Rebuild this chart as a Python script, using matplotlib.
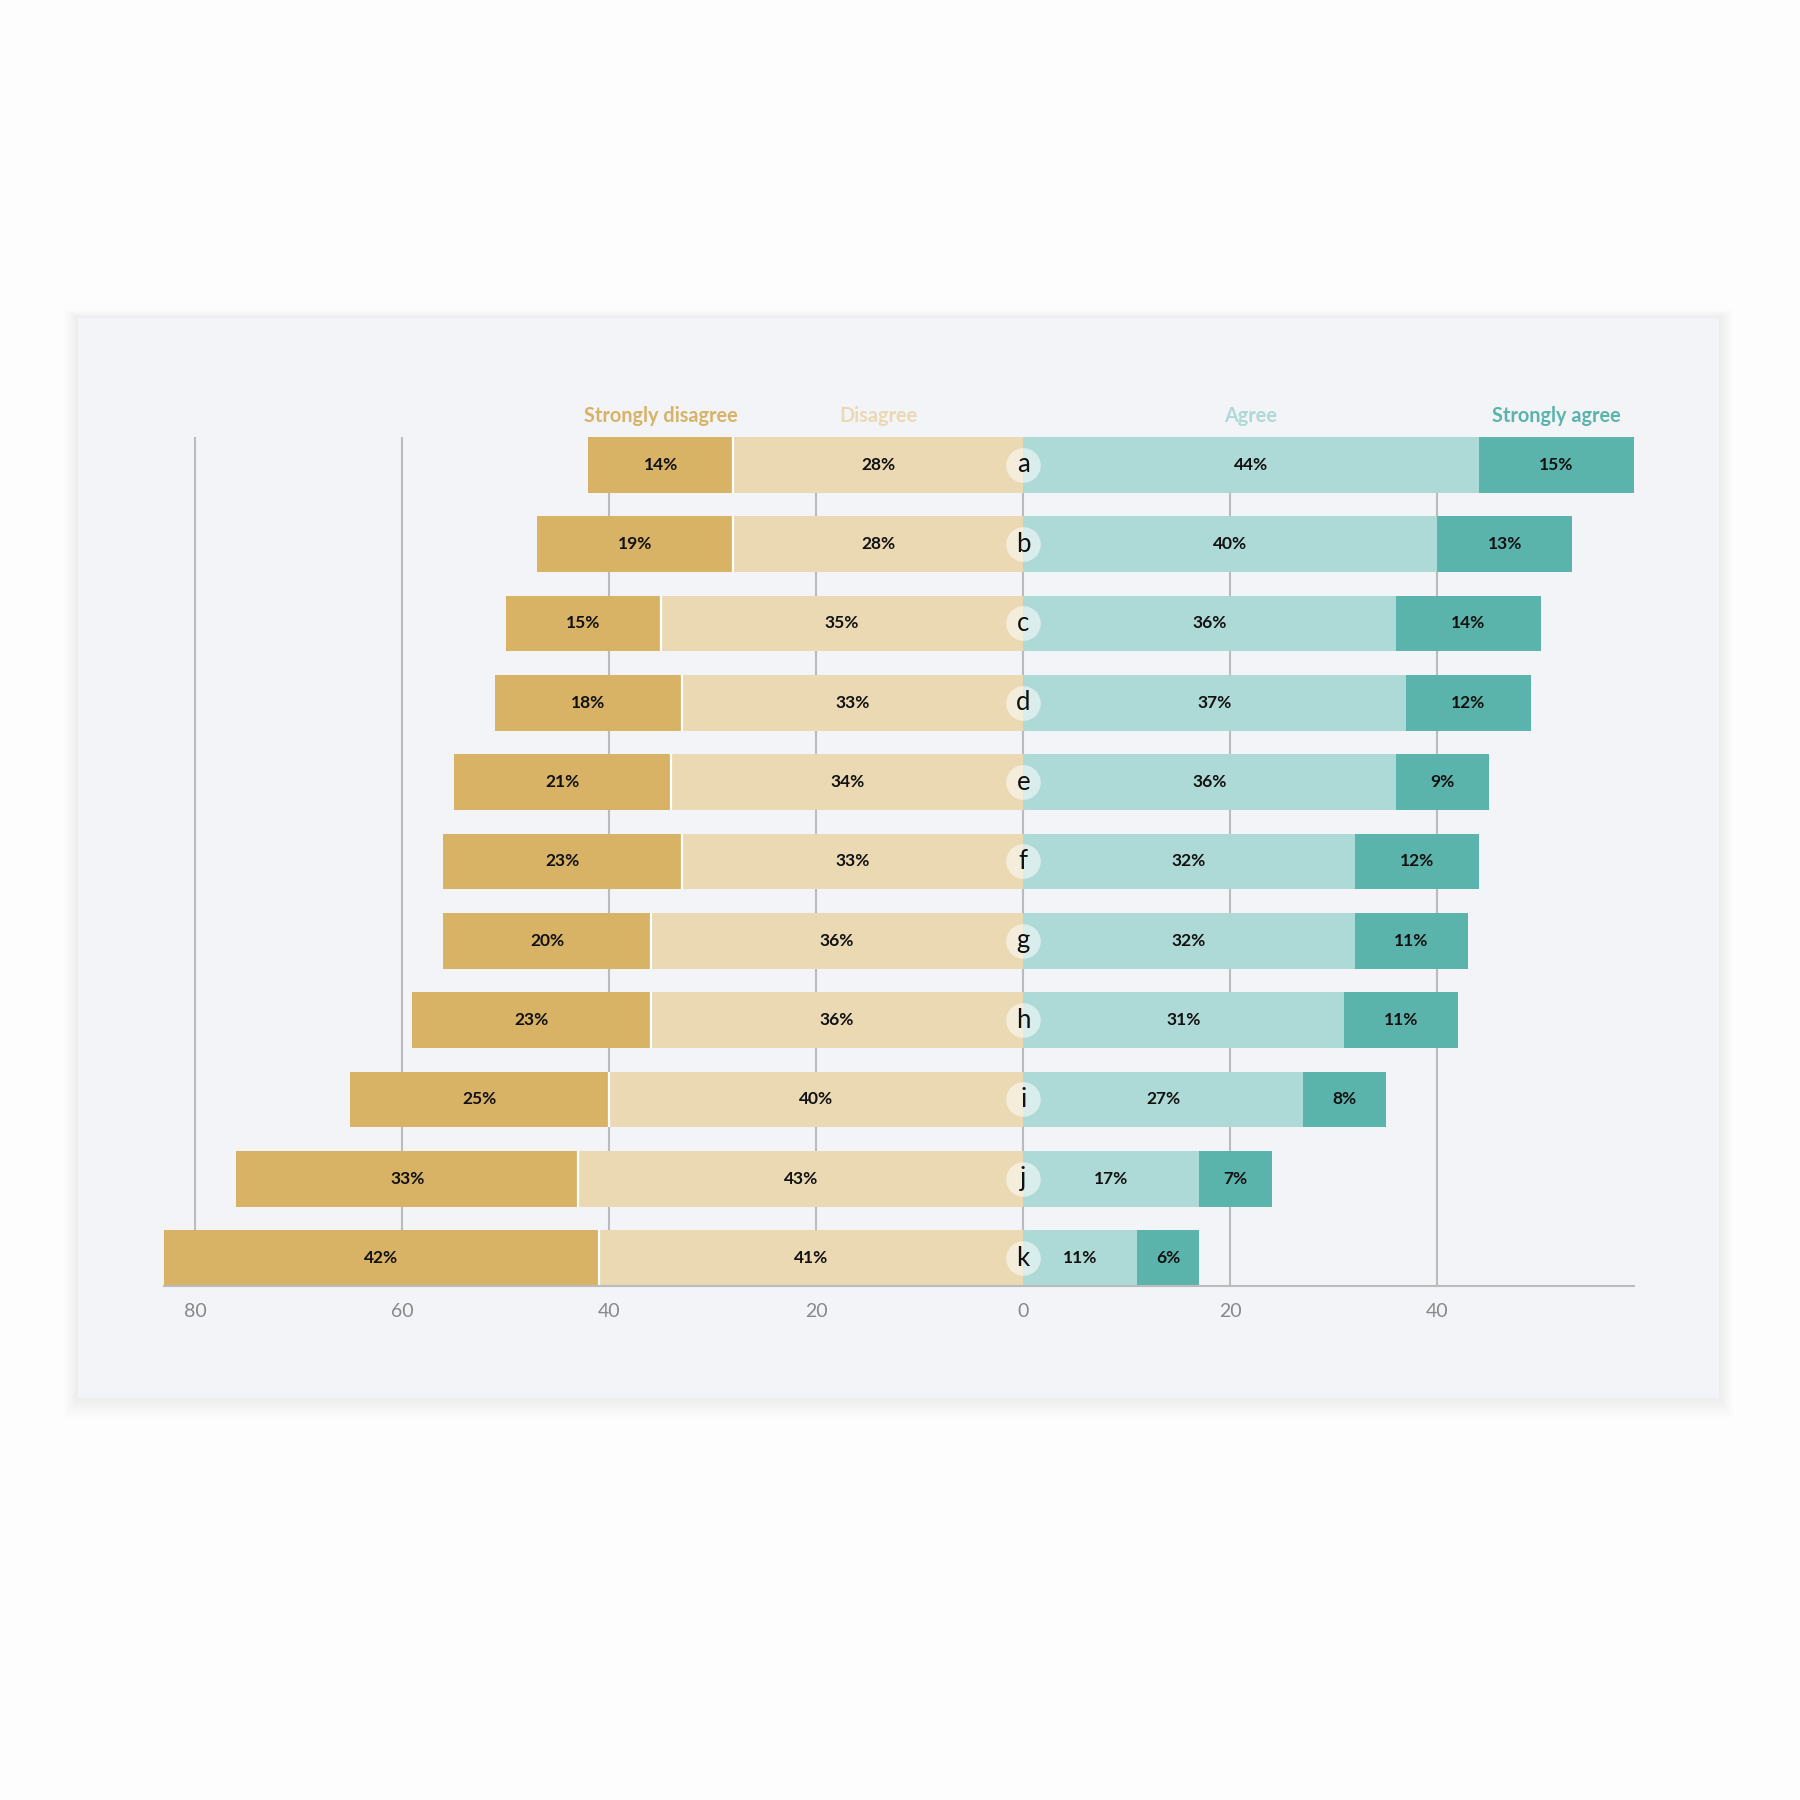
# Diverging Likert bar chart

import matplotlib.pyplot as plt
from matplotlib.patches import Rectangle


rows = ["a", "b", "c", "d", "e", "f", "g", "h", "i", "j", "k"]
strongly_disagree = [14, 19, 15, 18, 21, 23, 20, 23, 25, 33, 42]
disagree = [28, 28, 35, 33, 34, 33, 36, 36, 40, 43, 41]
agree = [44, 40, 36, 37, 36, 32, 32, 31, 27, 17, 11]
strongly_agree = [15, 13, 14, 12, 9, 12, 11, 11, 8, 7, 6]

headers = ["Strongly disagree", "Disagree", "Agree", "Strongly agree"]
ticks = [-80, -60, -40, -20, 0, 20, 40]

colors = ["#D8B265", "#EAD9B2", "#ADD9D6", "#5BB4AC"]

###

# Drawing

plt.rcParams["font.family"] = ["Lato", "DejaVu Sans"]

fig = plt.figure(figsize=(18, 18), dpi=100)
fig.patch.set_facecolor("#FDFDFD")

# card + soft shadow
cx, cy, cw, ch = 0.0433, 0.2233, 0.9117, 0.6
for i in range(16):
    p = 0.0005 * (i + 1)
    fig.add_artist(Rectangle((cx - p, cy - p * 1.4), cw + 2 * p, ch + 2 * p,
                             transform=fig.transFigure, facecolor="black",
                             edgecolor="none", alpha=0.0035, zorder=-3))
fig.add_artist(Rectangle((cx, cy), cw, ch, transform=fig.transFigure,
                         facecolor="#F3F4F8", edgecolor="none", zorder=-2))

ax = fig.add_axes([0.0911, 0.2856, 0.8167, 0.4716])
ax.set_facecolor("none")

y = list(range(len(rows)))
h = 0.7

ax.barh(y, strongly_disagree, left=[-(s + d) for s, d in zip(strongly_disagree, disagree)],
        height=h, color=colors[0], linewidth=0, zorder=2)
ax.barh(y, disagree, left=[-d for d in disagree], height=h, color=colors[1],
        linewidth=0, zorder=2)
ax.barh(y, agree, left=0, height=h, color=colors[2], linewidth=0, zorder=2)
ax.barh(y, strongly_agree, left=agree, height=h, color=colors[3],
        linewidth=0, zorder=2)

# thin white seam between the two disagree segments
ax.vlines([-d for d in disagree], [i - h / 2 for i in y], [i + h / 2 for i in y],
          color="white", linewidth=1.6, zorder=2.5)

# value labels
for i in y:
    sd, d, a, sa = strongly_disagree[i], disagree[i], agree[i], strongly_agree[i]
    for xc, v in [(-(d + sd / 2), sd), (-d / 2, d), (a / 2, a), (a + sa / 2, sa)]:
        ax.text(xc, i, f"{v}%", ha="center", va="center", fontsize=12.5,
                fontweight="bold", color="#111111", zorder=5)

# row letters in a pale circle
ax.scatter([0] * len(rows), y, s=620, color="white", alpha=0.55,
           linewidths=0, zorder=3)
for i, r in enumerate(rows):
    ax.text(0, i, r, ha="center", va="center", fontsize=18.5, color="#111111", zorder=4)

# headers over the first row
sd, d, a, sa = strongly_disagree[0], disagree[0], agree[0], strongly_agree[0]
for xc, lab, col in zip([-(d + sd / 2), -d / 2, a / 2, a + sa / 2], headers, colors):
    ax.text(xc, -0.62, lab, ha="center", va="center", fontsize=14.3,
            fontweight="bold", color=col, clip_on=False)

ax.set_xlim(-83, 59)
ax.set_ylim(len(rows) - 1 + h / 2, -h / 2)

ax.set_xticks(ticks)
ax.set_xticklabels([str(abs(t)) for t in ticks])
ax.set_yticks([])
ax.xaxis.grid(True, color="#BBBBBB", linewidth=1.5)
ax.set_axisbelow(True)
ax.tick_params(axis="x", length=0, pad=12, labelsize=14, labelcolor="#888888")

for side in ["top", "left", "right"]:
    ax.spines[side].set_visible(False)
ax.spines["bottom"].set_color("#BBBBBB")
ax.spines["bottom"].set_linewidth(1.5)

fig.savefig("out.png", dpi=100, facecolor=fig.get_facecolor())
